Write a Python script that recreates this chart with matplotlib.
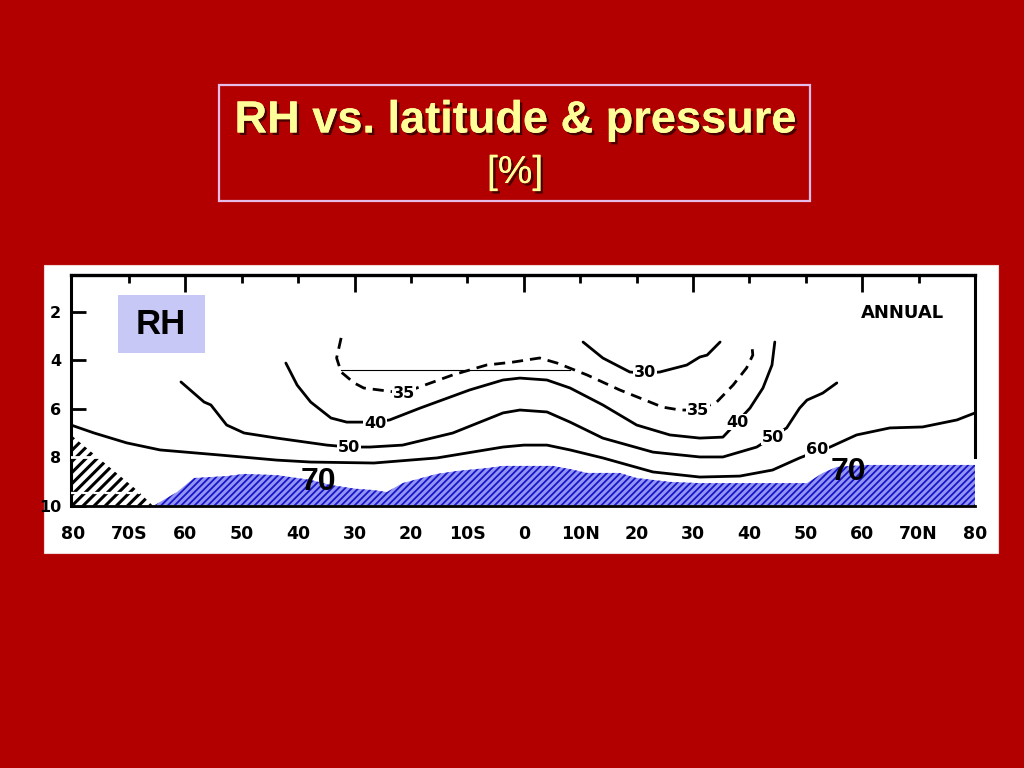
import matplotlib
matplotlib.use('Agg')
import matplotlib.pyplot as plt
import matplotlib.patheffects as pe
from matplotlib.patches import Rectangle

# ---------------- data ----------------
lat_ticks = [-80, -70, -60, -50, -40, -30, -20, -10, 0, 10, 20, 30, 40, 50, 60, 70, 80]
lat_tick_labels = ['80', '70S', '60', '50', '40', '30', '20', '10S', '0', '10N',
                   '20', '30', '40', '50', '60', '70N', '80']
top_major_ticks = [-60, -30, 0, 30, 60]
top_minor_ticks = [-70, -50, -40, -20, -10, 10, 20, 40, 50, 70]
p_ticks = [2, 4, 6, 8, 10]
p_tick_labels = ['2', '4', '6', '8', '10']

# RH contours (latitude in deg, pressure in 100 hPa)
rh30_lat = [10.5, 14.0, 18.8, 21.5, 24.1, 28.9, 31.2, 32.5, 34.8]
rh30_p = [3.24, 3.90, 4.48, 4.52, 4.48, 4.19, 3.86, 3.78, 3.24]

rh35_lat = [-32.4, -33.2, -32.4, -30.1, -28.4, -21.3, -19.0, -12.6, -6.6, -1.95, 2.8,
            5.9, 11.2, 17.0, 24.6, 27.7, 30.9, 34.2, 37.1, 39.5, 40.6, 40.4]
rh35_p = [3.07, 3.90, 4.48, 4.93, 5.14, 5.35, 5.14, 4.60, 4.19, 4.07, 3.90,
          4.11, 4.60, 5.22, 5.93, 6.05, 6.05, 5.72, 5.02, 4.31, 3.78, 3.28]

rh40_lat = [-42.2, -40.2, -37.8, -34.2, -31.4, -26.4, -23.8, -18.4, -9.6, -3.7, -0.7,
            4.1, 8.2, 14.0, 20.0, 25.9, 31.2, 35.3, 37.8, 40.1, 42.4, 44.0, 44.5]
rh40_p = [4.11, 5.02, 5.72, 6.38, 6.55, 6.55, 6.46, 5.97, 5.22, 4.81, 4.73,
          4.81, 5.14, 5.84, 6.67, 7.08, 7.21, 7.17, 6.55, 5.97, 5.14, 4.19, 3.24]

rh50_lat = [-60.8, -56.7, -55.5, -52.7, -49.6, -43.8, -34.9, -31.0, -27.3, -21.5, -12.6,
            -3.7, -0.7, 4.1, 8.2, 14.0, 22.9, 31.2, 35.3, 41.3, 44.1, 46.6, 48.9,
            50.2, 53.0, 55.5]
rh50_p = [4.89, 5.72, 5.84, 6.67, 7.00, 7.21, 7.50, 7.58, 7.58, 7.50, 7.00,
          6.17, 6.05, 6.13, 6.55, 7.21, 7.79, 7.99, 7.99, 7.58, 7.17, 6.79, 5.97,
          5.64, 5.35, 4.93]

rh60_lat = [-80.3, -76.2, -70.4, -64.5, -53.9, -43.8, -37.8, -26.6, -15.4, -3.7, 0.0,
            4.1, 8.2, 14.0, 22.9, 31.2, 38.3, 44.1, 48.9, 52.0, 54.3, 59.0, 64.9,
            70.7, 76.8, 80.0]
rh60_p = [6.67, 7.00, 7.41, 7.70, 7.91, 8.12, 8.20, 8.24, 8.03, 7.58, 7.50,
          7.50, 7.70, 8.03, 8.61, 8.82, 8.78, 8.53, 8.03, 7.75, 7.58, 7.08, 6.79,
          6.75, 6.46, 6.17]

# contour labels
clabel_lat = [21.5, -21.3, 30.9, -26.4, 37.8, -31.0, 44.1, 52.0]
clabel_p = [4.52, 5.35, 6.05, 6.59, 6.55, 7.58, 7.17, 7.70]
clabel_text = ['30', '35', '35', '40', '40', '50', '50', '60']

# RH > 70 % region (blue hatched), top boundary
rh70_lat = [-65.6, -61.5, -58.5, -52.7, -49.6, -43.8, -37.8, -34.2, -30.0, -26.6, -24.3,
            -21.5, -15.4, -11.9, -6.6, -3.7, 5.1, 8.2, 11.2, 17.0, 20.0, 25.9, 31.2,
            50.2, 53.0, 55.5, 60.8, 80.0]
rh70_top_p = [10.0, 9.44, 8.86, 8.78, 8.69, 8.74, 8.94, 9.15, 9.30, 9.36, 9.44,
              9.07, 8.69, 8.57, 8.45, 8.36, 8.36, 8.49, 8.65, 8.65, 8.86, 9.02, 9.07,
              9.07, 8.65, 8.40, 8.32, 8.32]
rh70_label_lat = [-36.5, 57.6]
rh70_label_p = [9.02, 8.61]

# topography (Antarctica) hatched
topo_lat = [-80.3, -68.6, -65.8, -80.3]
topo_p = [7.08, 9.36, 10.0, 10.0]

# thin scan line
scan_lat = [-32.4, 8.2]
scan_p = [4.40, 4.40]

# ---------------- figure ----------------
W, H = 1024, 768
fig = plt.figure(figsize=(W / 100, H / 100), dpi=100, facecolor='#B20000')

def fx(px):
    return px / W

def fy(py):
    return 1 - py / H

# white panel
fig.add_artist(Rectangle((fx(44), fy(553)), fx(998) - fx(44), fy(265) - fy(553),
                         transform=fig.transFigure, facecolor='white',
                         edgecolor='#f2d6d6', lw=0.8, zorder=-1))

# title box
fig.add_artist(Rectangle((fx(219), fy(201)), fx(810) - fx(219), fy(85) - fy(201),
                         transform=fig.transFigure, fill=False,
                         edgecolor='#E6BCE8', lw=1.6, zorder=2))
shadow = [pe.withSimplePatchShadow(offset=(1.8, -1.8), shadow_rgbFace='#300000', alpha=0.8),
          pe.Normal()]
fig.text(fx(515), fy(121), 'RH vs. latitude & pressure', ha='center', va='center',
         fontsize=32.5, fontweight='bold', family='Liberation Sans', color='#FFFF99',
         path_effects=shadow)
fig.text(fx(515), fy(173), '[%]', ha='center', va='center',
         fontsize=28, family='Liberation Sans', color='#FFFF99', path_effects=shadow)

# main axes
ax = fig.add_axes([fx(71), fy(505.6), fx(975) - fx(71), fy(275) - fy(505.6)])
ax.set_facecolor('white')
ax.set_xlim(-80.3, 80.0)
ax.set_ylim(10.0, 0.47)

for s in ['top', 'right']:
    ax.spines[s].set_visible(False)
ax.spines['left'].set_linewidth(2.2)
ax.spines['bottom'].set_linewidth(2.0)

ax.set_xticks(lat_ticks)
ax.set_xticklabels(lat_tick_labels, fontsize=12.5, fontweight='bold')
ax.tick_params(axis='x', direction='in', length=0, pad=14)
ax.set_yticks(p_ticks)
ax.set_yticklabels(p_tick_labels, fontsize=11.5, fontweight='bold')
ax.tick_params(axis='y', direction='in', length=11, width=2, pad=7)

sec = ax.secondary_xaxis('top')
sec.spines['top'].set_linewidth(2.4)
sec.set_xticks(top_major_ticks)
sec.set_xticks(top_minor_ticks, minor=True)
sec.tick_params(which='major', direction='in', length=12, width=2, labeltop=False)
sec.tick_params(which='minor', direction='in', length=6, width=2, labeltop=False)

# partial right frame
ax.axvline(80.0, ymin=(10.0 - 8.0) / (10.0 - 0.47), ymax=1, color='black', lw=2.2,
           clip_on=False)

# topography hatch
plt.rcParams['hatch.linewidth'] = 2.2
ax.fill(topo_lat, topo_p, facecolor='white', edgecolor='black', hatch='///', lw=0, zorder=2)
ax.plot([-80.3, -72.5], [8.0, 8.0], color='white', lw=2.0, zorder=3)
ax.plot([-80.3, -68.0], [9.48, 9.48], color='white', lw=1.6, ls=(0, (3, 2)), zorder=3)

# RH > 70 region
plt.rcParams['hatch.linewidth'] = 1.3
ax.fill_between(rh70_lat, rh70_top_p, 10.0, facecolor='#9494f2', edgecolor='#1616c8',
                hatch='/////', lw=0, zorder=2)

# contours
line_kw = dict(color='black', lw=2.0, solid_capstyle='round', zorder=4)
ax.plot(rh30_lat, rh30_p, **line_kw)
ax.plot(rh35_lat, rh35_p, color='black', lw=2.0, ls=(0, (4, 2.5)), zorder=4)
ax.plot(rh40_lat, rh40_p, **line_kw)
ax.plot(rh50_lat, rh50_p, **line_kw)
ax.plot(rh60_lat, rh60_p, **line_kw)
ax.plot(scan_lat, scan_p, color='black', lw=0.8, zorder=3)

for la, pp, t in zip(clabel_lat, clabel_p, clabel_text):
    ax.text(la, pp, t, ha='center', va='center', fontsize=11.5, fontweight='bold',
            zorder=5, bbox=dict(facecolor='white', edgecolor='none', pad=0.6))

for la, pp in zip(rh70_label_lat, rh70_label_p):
    ax.text(la, pp, '70', ha='center', va='center', fontsize=23, fontweight='bold',
            family='Liberation Sans', color='black', zorder=6)

ax.text(0.92, 0.835, 'ANNUAL', transform=ax.transAxes, ha='center', va='center',
        fontsize=13, fontweight='bold')

# RH label box
fig.add_artist(Rectangle((fx(118), fy(353)), fx(205) - fx(118), fy(295) - fy(353),
                         transform=fig.transFigure, facecolor='#C8C8F6',
                         edgecolor='none', zorder=5))
fig.text(fx(161), fy(325), 'RH', ha='center', va='center', fontsize=25,
         fontweight='bold', family='Liberation Sans', color='black', zorder=6)

fig.savefig('out.png', dpi=100, facecolor=fig.get_facecolor())
